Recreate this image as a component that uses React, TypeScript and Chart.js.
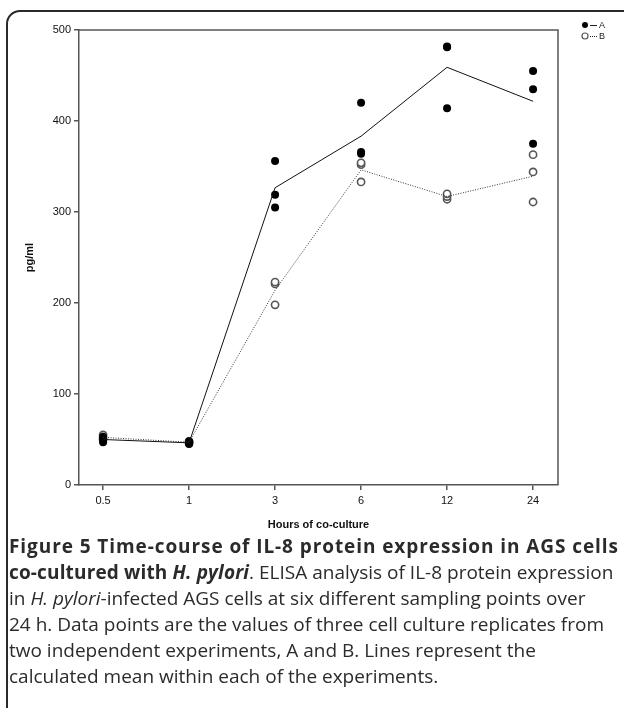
import React, { useEffect, useRef } from "react";
import { Chart, registerables } from "chart.js";

Chart.register(...registerables);

const hours = ["0.5", "1", "3", "6", "12", "24"];
const yTicks = [0, 100, 200, 300, 400, 500];

const expA_rep1 = [53, 48, 356, 420, 482, 455];
const expA_rep2 = [50, 46, 319, 366, 481, 435];
const expA_rep3 = [47, 45, 305, 364, 414, 375];

const expB_rep1 = [55, 48, 223, 354, 320, 363];
const expB_rep2 = [52, 47, 221, 352, 317, 344];
const expB_rep3 = [50, 46, 198, 333, 314, 311];

const seriesLabels = ["A", "B"];

const toPoints = (arr: number[]) => arr.map((y, i) => ({ x: i, y }));
const meanOf = (reps: number[][]) =>
  reps[0].map((_, i) => reps.reduce((s, r) => s + r[i], 0) / reps.length);

const FONT = "'Liberation Sans', Arial, sans-serif";

const frameBox = {
  id: "frameBox",
  afterDraw(chart: any) {
    const { ctx, chartArea } = chart;
    ctx.save();
    ctx.strokeStyle = "#555";
    ctx.lineWidth = 1.5;
    ctx.beginPath();
    ctx.moveTo(chartArea.left, chartArea.top);
    ctx.lineTo(chartArea.right, chartArea.top);
    ctx.lineTo(chartArea.right, chartArea.bottom);
    ctx.stroke();
    ctx.restore();
  },
};

const legendPlugin = {
  id: "customLegend",
  afterDraw(chart: any) {
    const { ctx, chartArea } = chart;
    const x0 = chartArea.right + 27;
    const rows = [
      { y: 25, filled: true, dash: [] as number[] },
      { y: 36, filled: false, dash: [1, 1] },
    ];
    ctx.save();
    rows.forEach((r, i) => {
      ctx.beginPath();
      ctx.arc(x0, r.y, 3, 0, Math.PI * 2);
      if (r.filled) {
        ctx.fillStyle = "#000";
        ctx.fill();
      } else {
        ctx.fillStyle = "#fff";
        ctx.fill();
        ctx.strokeStyle = "#555";
        ctx.lineWidth = 1.2;
        ctx.stroke();
      }
      ctx.beginPath();
      ctx.setLineDash(r.dash);
      ctx.strokeStyle = "#222";
      ctx.lineWidth = 1;
      ctx.moveTo(x0 + 5, r.y + 0.5);
      ctx.lineTo(x0 + 12, r.y + 0.5);
      ctx.stroke();
      ctx.setLineDash([]);
      ctx.fillStyle = "#222";
      ctx.font = `9px ${FONT}`;
      ctx.textBaseline = "middle";
      ctx.fillText(seriesLabels[i], x0 + 14, r.y + 0.5);
    });
    ctx.restore();
  },
};

export default function App() {
  const ref = useRef<HTMLCanvasElement | null>(null);

  useEffect(() => {
    if (!ref.current) return;
    const meanA = meanOf([expA_rep1, expA_rep2, expA_rep3]);
    const meanB = meanOf([expB_rep1, expB_rep2, expB_rep3]);
    const dotA = {
      type: "scatter" as const,
      showLine: false,
      pointRadius: 4,
      pointBackgroundColor: "#000",
      pointBorderColor: "#000",
      pointBorderWidth: 0,
    };
    const dotB = {
      type: "scatter" as const,
      showLine: false,
      pointRadius: 3.6,
      pointBackgroundColor: "#fff",
      pointBorderColor: "#555",
      pointBorderWidth: 1.6,
    };
    const chart = new Chart(ref.current, {
      type: "scatter",
      data: {
        datasets: [
          {
            label: "A mean",
            data: toPoints(meanA),
            showLine: true,
            borderColor: "#111",
            borderWidth: 1,
            pointRadius: 0,
          },
          {
            label: "B mean",
            data: toPoints(meanB),
            showLine: true,
            borderColor: "#333",
            borderWidth: 1,
            borderDash: [1, 1.5],
            pointRadius: 0,
          },
          { label: "A1", data: toPoints(expA_rep1), ...dotA },
          { label: "A2", data: toPoints(expA_rep2), ...dotA },
          { label: "A3", data: toPoints(expA_rep3), ...dotA },
          { label: "B1", data: toPoints(expB_rep1), ...dotB },
          { label: "B2", data: toPoints(expB_rep2), ...dotB },
          { label: "B3", data: toPoints(expB_rep3), ...dotB },
        ],
      },
      options: {
        animation: false,
        responsive: false,
        devicePixelRatio: 1,
        layout: { padding: { left: 0, right: 66, top: 30, bottom: 0 } },
        plugins: {
          legend: { display: false },
          tooltip: { enabled: false },
        },
        scales: {
          x: {
            type: "linear",
            min: -0.28,
            max: 5.29,
            afterBuildTicks: (s: any) => {
              s.ticks = hours.map((_, i) => ({ value: i }));
            },
            afterFit: (s: any) => {
              s.height = 55;
            },
            ticks: {
              autoSkip: false,
              maxRotation: 0,
              padding: 4,
              color: "#111",
              font: { family: FONT, size: 11 },
              callback: (v: any) => hours[v as number] ?? "",
            },
            grid: {
              drawOnChartArea: false,
              drawTicks: true,
              tickLength: 5,
              color: "#555",
              lineWidth: 1.5,
            },
            border: { display: true, color: "#555", width: 1.5 },
            title: {
              display: true,
              text: "Hours of co-culture",
              color: "#111",
              font: { family: FONT, size: 11, weight: "bold" },
              padding: { top: 0, bottom: 8 },
            },
          },
          y: {
            type: "linear",
            min: 0,
            max: 500,
            afterBuildTicks: (s: any) => {
              s.ticks = yTicks.map((v) => ({ value: v }));
            },
            afterFit: (s: any) => {
              s.width = 79;
            },
            ticks: {
              padding: 3,
              color: "#111",
              font: { family: FONT, size: 11 },
            },
            grid: {
              drawOnChartArea: false,
              drawTicks: true,
              tickLength: 5,
              color: "#555",
              lineWidth: 1.5,
            },
            border: { display: true, color: "#555", width: 1.5 },
            title: {
              display: true,
              text: "pg/ml",
              color: "#111",
              font: { family: FONT, size: 11, weight: "bold" },
              padding: { top: 23, bottom: 0 },
            },
          },
        },
      },
      plugins: [frameBox, legendPlugin],
    });
    return () => chart.destroy();
  }, []);

  const lineStyle: React.CSSProperties = { whiteSpace: "nowrap" };
  const boldStyle1: React.CSSProperties = { fontWeight: 700, letterSpacing: "0.92px" };
  const boldStyle2: React.CSSProperties = { fontWeight: 700, letterSpacing: "0.15px" };

  return (
    <div style={{ position: "absolute", left: 0, top: 0, width: 624, height: 708, overflow: "hidden", background: "#fff" }}>
      <div
        style={{
          position: "absolute",
          left: 6,
          top: 10,
          width: 660,
          height: 740,
          border: "2px solid #2a2a2a",
          borderTopLeftRadius: 14,
          boxSizing: "border-box",
        }}
      />
      <canvas
        ref={ref}
        width={624}
        height={540}
        style={{ position: "absolute", left: 0, top: 0, width: 624, height: 540 }}
      />
      <div
        style={{
          position: "absolute",
          left: 9,
          top: 533,
          fontFamily: "'Open Sans', sans-serif",
          fontSize: 19,
          lineHeight: "26px",
          color: "#2b2b2b",
        }}
      >
        <div style={lineStyle}>
          <span style={boldStyle1}>Figure 5 Time-course of IL-8 protein expression in AGS cells</span>
        </div>
        <div style={lineStyle}>
          <span style={boldStyle2}>
            co-cultured with <i>H. pylori</i>
          </span>
          . ELISA analysis of IL-8 protein expression
        </div>
        <div style={lineStyle}>
          in <i>H. pylori</i>-infected AGS cells at six different sampling points over
        </div>
        <div style={lineStyle}>
          24 h. Data points are the values of three cell culture replicates from
        </div>
        <div style={lineStyle}>two independent experiments, A and B. Lines represent the</div>
        <div style={lineStyle}>calculated mean within each of the experiments.</div>
      </div>
    </div>
  );
}
